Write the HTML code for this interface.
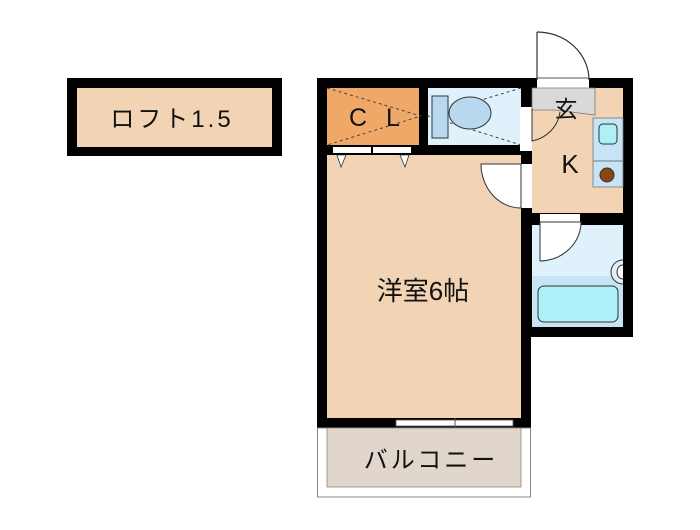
<!DOCTYPE html>
<html><head><meta charset="utf-8"><style>
body{margin:0;background:#fff;width:700px;height:525px;overflow:hidden}
</style></head><body>
<svg width="700" height="525" xmlns="http://www.w3.org/2000/svg" font-family="Liberation Sans, Noto Sans CJK JP, sans-serif">
<!-- Loft -->
<rect x="67" y="78" width="215" height="78" fill="#000"/>
<rect x="77" y="88" width="195" height="59" fill="#f2d3b4"/>
<text x="172" y="127" font-size="24" text-anchor="middle" letter-spacing="3" fill="#111">ロフト1.5</text>

<rect x="317" y="78" width="214" height="350" fill="#000"/>
<rect x="521" y="78" width="112" height="259" fill="#000"/>
<rect x="537" y="78" width="52" height="10" fill="#fff"/>
<line x1="537" y1="78" x2="589" y2="78" stroke="#555" stroke-width="1"/>
<line x1="537" y1="32" x2="537" y2="80" stroke="#333" stroke-width="1.2"/>
<path d="M537 32 A52 48 0 0 1 589 80" fill="none" stroke="#333" stroke-width="1.2"/>

<rect x="327" y="88" width="92" height="57" fill="#f0a868"/>
<path d="M327 88 L421 116 L327 145" fill="none" stroke="#444" stroke-dasharray="3,3"/>
<text x="358" y="126" font-size="25" text-anchor="middle" fill="#111">C</text>
<text x="393" y="126" font-size="25" text-anchor="middle" fill="#111">L</text>
<rect x="428" y="88" width="93" height="57" fill="#dff1fb"/>
<path d="M521 88 L428 116 L521 145" fill="none" stroke="#444" stroke-dasharray="3,3"/>
<rect x="432" y="96" width="16" height="42" fill="#b8d8f0" stroke="#333"/>
<ellipse cx="470" cy="113" rx="21" ry="16" fill="#b8d8f0" stroke="#333"/>
<rect x="327" y="155" width="194" height="263" fill="#f2d3b4"/>
<rect x="333" y="147" width="38" height="6" fill="#fff"/>
<rect x="373" y="147" width="38" height="6" fill="#fff"/>
<path d="M337 155 L346 155 L341 167 Z" fill="#fff" stroke="#333" stroke-width="0.8"/>
<path d="M400 155 L409 155 L405 167 Z" fill="#fff" stroke="#333" stroke-width="0.8"/>
<text x="423" y="300" font-size="26" text-anchor="middle" fill="#111">洋室6帖</text>
<rect x="520" y="164" width="12" height="44" fill="#fff"/>
<path d="M521 164 L481 164 A40 44 0 0 0 521 208 Z" fill="#fff" stroke="#333" stroke-width="1"/>

<rect x="532" y="88" width="91" height="125" fill="#f2d3b4"/>
<path d="M532 88 L595 88 L595 115 L555 110 L532 110 Z" fill="#d9d9d9" stroke="#777" stroke-width="0.8"/>
<text x="566" y="117" font-size="23" text-anchor="middle" fill="#111">玄</text>
<rect x="593" y="118" width="30" height="69" fill="#c6e4f6" stroke="#777" stroke-width="0.8"/>
<line x1="593" y1="161" x2="623" y2="161" stroke="#777"/>
<rect x="599" y="124" width="18" height="20" rx="4" fill="#aef0f8" stroke="#333"/>
<circle cx="607" cy="175" r="7" fill="#8b4513" stroke="#333"/>
<text x="570" y="173" font-size="26" text-anchor="middle" fill="#111">K</text>
<rect x="520" y="107" width="12" height="44" fill="#fff"/>
<path d="M532 108 L532 141 A35 34 0 0 0 560 112" fill="none" stroke="#333" stroke-width="1"/>

<rect x="532" y="225" width="91" height="102" fill="#dff1fb"/>
<rect x="532" y="276" width="91" height="51" fill="#c6e4f6"/>
<rect x="540" y="214" width="40" height="8" fill="#fff"/>
<path d="M540 222 L540 261 A42 39 0 0 0 581 222 Z" fill="#fff" stroke="#333" stroke-width="1"/>
<rect x="538" y="286" width="80" height="36" rx="6" fill="#aef0f8" stroke="#333"/>
<path d="M623 260 A12 12 0 0 0 623 284" fill="#dff1fb" stroke="#333"/>
<path d="M623 265 A6 7 0 0 0 623 279" fill="#fff" stroke="#333"/>

<rect x="396" y="420" width="117" height="6" fill="#fff" stroke="#555" stroke-width="0.8"/>
<line x1="455" y1="418" x2="455" y2="428" stroke="#555"/>
<rect x="317.5" y="428" width="213" height="69" fill="#fff" stroke="#888"/>
<rect x="327" y="428" width="194" height="59" fill="#e0d6cb" stroke="#888" stroke-width="0.8"/>
<text x="431" y="468" font-size="24" text-anchor="middle" letter-spacing="3" fill="#111">バルコニー</text>
</svg>
</body></html>
